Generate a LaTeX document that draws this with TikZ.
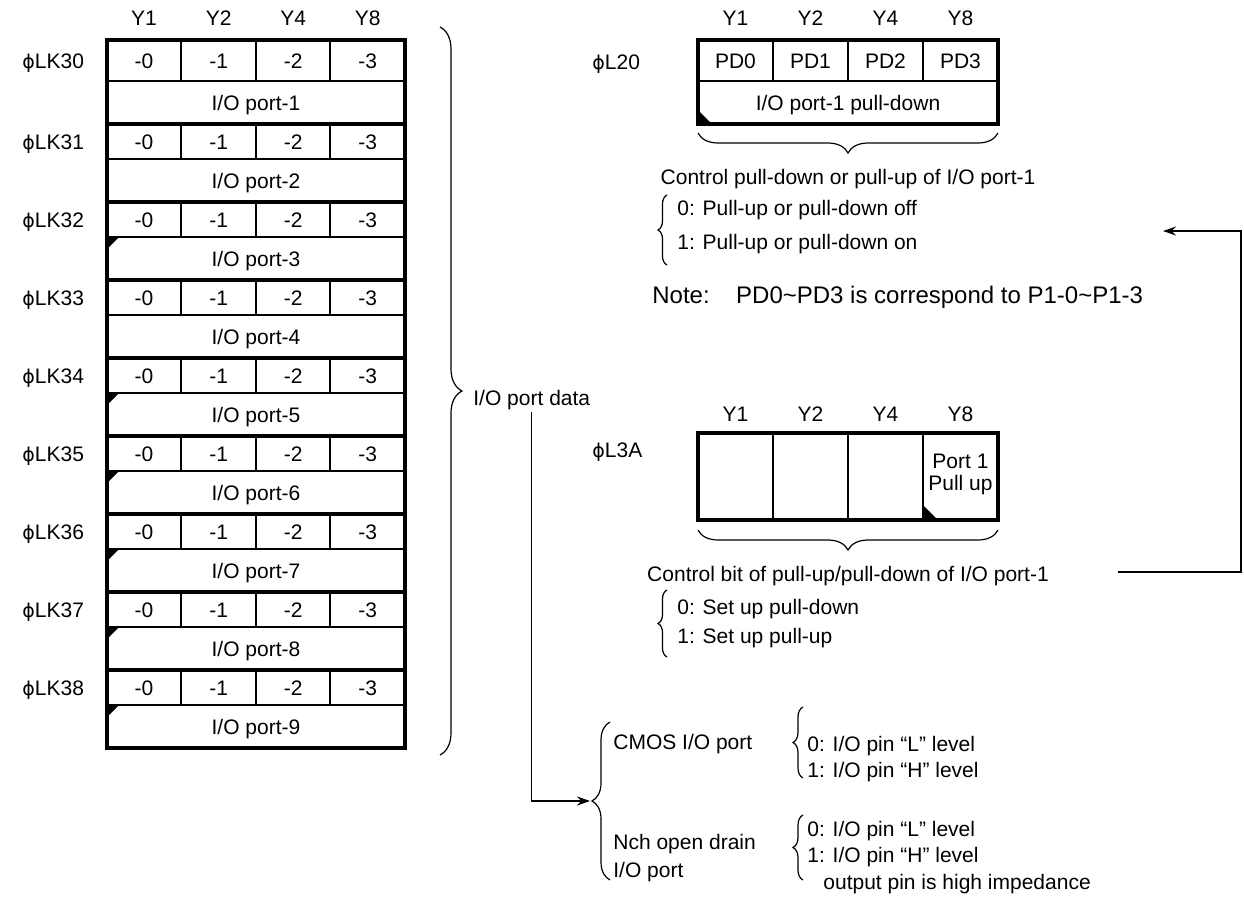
\documentclass[tikz,border=0pt]{standalone}
\usepackage{fontspec}
\setmainfont{Liberation Sans}
\newfontfamily\symfont{DejaVu Sans}
\usetikzlibrary{arrows.meta, decorations.pathreplacing, calc}

\newcommand{\ph}{{\symfont\fontsize{9.5}{11}\selectfont ϕ}}

\tikzset{
  lbl/.style={inner sep=0pt, text height=7.5pt, text depth=0pt},
  grid/.style={line width=0.8pt},
  heavy/.style={line width=2pt},
  conn/.style={line width=0.6pt},
  curly/.style={line width=0.6pt, decorate, decoration={brace, amplitude=#1}},
  tip/.style={-{Stealth[length=6.5pt, width=4.5pt]}},
}

\begin{document}
\begin{tikzpicture}[x=0.5pt, y=-0.5pt, font=\fontsize{10.5}{12}\selectfont]
  \useasboundingbox (0,0) rectangle (1244,901);
  \foreach \t/\j in {Y1/0,Y2/1,Y4/2,Y8/3} {
    \node[lbl] (hl\j) at ({144+74.6*\j},18) {\t};
    \node[lbl] (ha\j) at ({735.5+75*\j},18) {\t};
    \node[lbl] (hb\j) at ({735.5+75*\j},414) {\t};
  }
  \foreach \k in {0,...,8} {
    \pgfmathsetmacro\yt{ifthenelse(\k==0,40,46+78*\k)}
    \pgfmathsetmacro\ym{81+78*\k}
    \pgfmathsetmacro\yb{124+78*\k}
    \pgfmathtruncatemacro\rn{30+\k}
    \pgfmathtruncatemacro\pn{\k+1}
    \node[lbl, anchor=west] (lk\k) at (22,{(\yt+\ym)/2}) {\ph LK\rn};
    \foreach \j in {0,...,3}
      \node[lbl] (b\k\j) at ({144+74.6*\j},{(\yt+\ym)/2}) {-\j};
    \node[lbl] (p\k) at (256,{(\ym+\yb)/2}) {I/O port-\pn};
    \draw[grid] (107,\ym) -- (405,\ym) (181,\yt) -- (181,\ym)
      (256,\yt) -- (256,\ym) (330,\yt) -- (330,\ym);
    \draw[heavy] (107,\yb) -- (405,\yb);
  }
  \foreach \k in {2,4,5,6,7,8}
    \fill (108,{81+78*\k}) -- ++(11,0) -- ++(-11,11) -- cycle;
  \draw[heavy] (107,40) rectangle (405,748);
  \draw[curly=11pt] (440,27) -- (440,755);
  \node[lbl, anchor=west] (pdata) at (473,398) {I/O port data};

  \node[lbl, anchor=west] (l20) at (592,62) {\ph L20};
  \foreach \j in {0,...,3}
    \node[lbl] (pd\j) at ({735.5+75*\j},60.5) {PD\j};
  \node[lbl] (pdn) at (848,102.5) {I/O port-1 pull-down};
  \fill (699,124) -- ++(0,-13) -- ++(13,13) -- cycle;
  \draw[grid] (698,81) -- (998,81) (773,40) -- (773,81)
    (848,40) -- (848,81) (923,40) -- (923,81);
  \draw[heavy] (698,40) rectangle (998,124);
  \draw[curly=10pt] (998,133) -- (698,133);
  \node[lbl] (ctl) at (848,177) {Control pull-down or pull-up of I/O port-1};
  \draw[curly=4.5pt] (667,265) -- (667,195);
  \node[lbl, anchor=west] (ctl0) at (677,208) {0: Pull-up or pull-down off};
  \node[lbl, anchor=west] (ctl1) at (677,242) {1: Pull-up or pull-down on};
  \node[lbl, anchor=west, font=\fontsize{12}{14}\selectfont] (note) at (652,296)
    {Note:\hspace{1.1em}PD0\textasciitilde PD3 is correspond to P1-0\textasciitilde P1-3};

  \node[lbl, anchor=west] (l3a) at (592,450) {\ph L3A};
  \node[align=center, inner sep=0pt, font=\fontsize{10.5}{11}\selectfont] (pu) at (960.5,474) {Port 1\\Pull up};
  \fill (923,520) -- ++(0,-15) -- ++(15,15) -- cycle;
  \draw[grid] (773,433) -- (773,520) (848,433) -- (848,520) (923,433) -- (923,520);
  \draw[heavy] (698,433) rectangle (998,520);
  \draw[curly=10pt] (998,530) -- (698,530);
  \node[lbl] (cbit) at (848,574) {Control bit of pull-up/pull-down of I/O port-1};
  \draw[curly=4.5pt] (667,657) -- (667,590);
  \node[lbl, anchor=west] (cb0) at (677,607) {0: Set up pull-down};
  \node[lbl, anchor=west] (cb1) at (677,636) {1: Set up pull-up};
  \coordinate (fbs) at (1118,572);
  \coordinate (fbe) at (1163,231);
  \draw[conn, tip] (fbs) -- ++(123,0) |- (fbe);

  \coordinate (iotip) at (590,801);
  \draw[conn, tip] ([yshift=-3pt]pdata.south) |- (iotip);
  \draw[curly=9pt] (610,880) -- (610,722);
  \node[lbl, anchor=west] (cmos) at (613,742) {CMOS I/O port};
  \node[lbl, anchor=west] (nch) at (613,842) {Nch open drain};
  \node[lbl, anchor=west] (nchp) at (613,870) {I/O port};
  \draw[curly=5pt] (803,778) -- (803,707);
  \node[lbl, anchor=west] (cm0) at (807,744) {0: I/O pin “L” level};
  \node[lbl, anchor=west] (cm1) at (807,770) {1: I/O pin “H” level};
  \draw[curly=5pt] (803,880) -- (803,815);
  \node[lbl, anchor=west] (nc0) at (807,829) {0: I/O pin “L” level};
  \node[lbl, anchor=west] (nc1) at (807,855) {1: I/O pin “H” level};
  \node[lbl, anchor=west] (nc2) at (823,882) {output pin is high impedance};
\end{tikzpicture}
\end{document}
